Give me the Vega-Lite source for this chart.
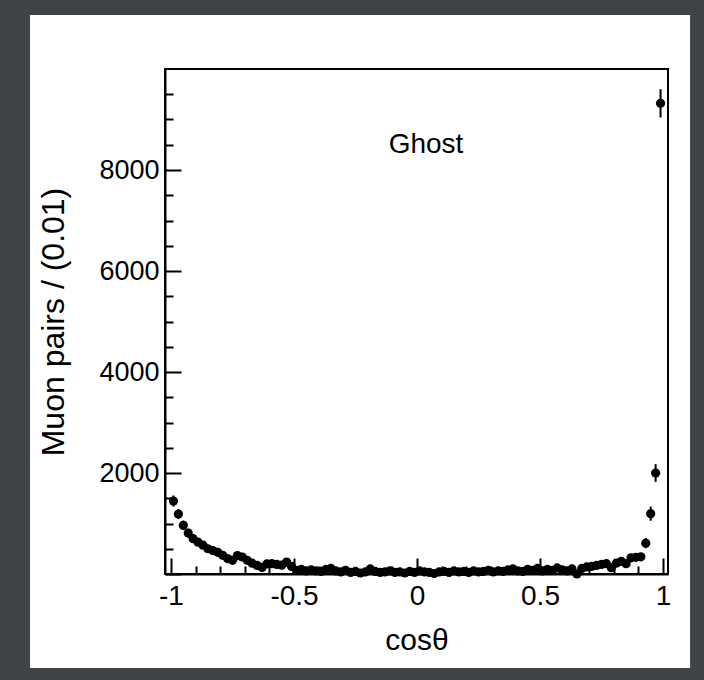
{
  "$schema": "https://vega.github.io/schema/vega-lite/v6.json",
  "width": 503,
  "height": 505,
  "autosize": {"type": "none"},
  "padding": {"left": 165, "top": 69, "right": 36, "bottom": 106},
  "background": "#3e4448",
  "config": {"view": {"stroke": null, "fill": null}},
  "data": {"values": [
    {"c": -0.99, "n": 1445, "e": 110},
    {"c": -0.97, "n": 1187, "e": 100},
    {"c": -0.95, "n": 963, "e": 93},
    {"c": -0.93, "n": 811, "e": 85},
    {"c": -0.91, "n": 700, "e": 80},
    {"c": -0.89, "n": 630, "e": 75},
    {"c": -0.87, "n": 570, "e": 72},
    {"c": -0.85, "n": 500, "e": 67},
    {"c": -0.83, "n": 465, "e": 65},
    {"c": -0.81, "n": 430, "e": 62},
    {"c": -0.79, "n": 370, "e": 58},
    {"c": -0.77, "n": 305, "e": 52},
    {"c": -0.75, "n": 270, "e": 49},
    {"c": -0.73, "n": 365, "e": 57},
    {"c": -0.71, "n": 335, "e": 55},
    {"c": -0.69, "n": 270, "e": 49},
    {"c": -0.67, "n": 215, "e": 44},
    {"c": -0.65, "n": 170, "e": 39},
    {"c": -0.63, "n": 130, "e": 34},
    {"c": -0.61, "n": 200, "e": 42},
    {"c": -0.59, "n": 205, "e": 43},
    {"c": -0.57, "n": 190, "e": 41},
    {"c": -0.55, "n": 175, "e": 40},
    {"c": -0.53, "n": 235, "e": 46},
    {"c": -0.51, "n": 150, "e": 37},
    {"c": -0.49, "n": 70, "e": 25},
    {"c": -0.47, "n": 90, "e": 28},
    {"c": -0.45, "n": 60, "e": 23},
    {"c": -0.43, "n": 80, "e": 27},
    {"c": -0.41, "n": 60, "e": 23},
    {"c": -0.39, "n": 50, "e": 21},
    {"c": -0.37, "n": 90, "e": 28},
    {"c": -0.35, "n": 110, "e": 31},
    {"c": -0.33, "n": 60, "e": 23},
    {"c": -0.31, "n": 40, "e": 19},
    {"c": -0.29, "n": 70, "e": 25},
    {"c": -0.27, "n": 30, "e": 16},
    {"c": -0.25, "n": 50, "e": 21},
    {"c": -0.23, "n": 20, "e": 13},
    {"c": -0.21, "n": 40, "e": 19},
    {"c": -0.19, "n": 100, "e": 30},
    {"c": -0.17, "n": 50, "e": 21},
    {"c": -0.15, "n": 30, "e": 16},
    {"c": -0.13, "n": 40, "e": 19},
    {"c": -0.11, "n": 60, "e": 23},
    {"c": -0.09, "n": 30, "e": 16},
    {"c": -0.07, "n": 40, "e": 19},
    {"c": -0.05, "n": 20, "e": 13},
    {"c": -0.03, "n": 50, "e": 21},
    {"c": -0.01, "n": 30, "e": 16},
    {"c": 0.01, "n": 60, "e": 23},
    {"c": 0.03, "n": 40, "e": 19},
    {"c": 0.05, "n": 30, "e": 16},
    {"c": 0.07, "n": 10, "e": 10},
    {"c": 0.09, "n": 40, "e": 19},
    {"c": 0.11, "n": 50, "e": 21},
    {"c": 0.13, "n": 30, "e": 16},
    {"c": 0.15, "n": 60, "e": 23},
    {"c": 0.17, "n": 40, "e": 19},
    {"c": 0.19, "n": 50, "e": 21},
    {"c": 0.21, "n": 30, "e": 16},
    {"c": 0.23, "n": 60, "e": 23},
    {"c": 0.25, "n": 40, "e": 19},
    {"c": 0.27, "n": 50, "e": 21},
    {"c": 0.29, "n": 70, "e": 25},
    {"c": 0.31, "n": 40, "e": 19},
    {"c": 0.33, "n": 60, "e": 23},
    {"c": 0.35, "n": 50, "e": 21},
    {"c": 0.37, "n": 80, "e": 27},
    {"c": 0.39, "n": 100, "e": 30},
    {"c": 0.41, "n": 60, "e": 23},
    {"c": 0.43, "n": 50, "e": 21},
    {"c": 0.45, "n": 90, "e": 28},
    {"c": 0.47, "n": 70, "e": 25},
    {"c": 0.49, "n": 110, "e": 31},
    {"c": 0.51, "n": 60, "e": 23},
    {"c": 0.53, "n": 90, "e": 28},
    {"c": 0.55, "n": 70, "e": 25},
    {"c": 0.57, "n": 120, "e": 33},
    {"c": 0.59, "n": 80, "e": 27},
    {"c": 0.61, "n": 60, "e": 23},
    {"c": 0.63, "n": 100, "e": 30},
    {"c": 0.65, "n": 0, "e": 5},
    {"c": 0.67, "n": 110, "e": 31},
    {"c": 0.69, "n": 140, "e": 35},
    {"c": 0.71, "n": 150, "e": 37},
    {"c": 0.73, "n": 170, "e": 39},
    {"c": 0.75, "n": 190, "e": 41},
    {"c": 0.77, "n": 205, "e": 43},
    {"c": 0.79, "n": 125, "e": 34},
    {"c": 0.81, "n": 215, "e": 44},
    {"c": 0.83, "n": 250, "e": 47},
    {"c": 0.85, "n": 205, "e": 43},
    {"c": 0.87, "n": 320, "e": 54},
    {"c": 0.89, "n": 330, "e": 54},
    {"c": 0.91, "n": 340, "e": 55},
    {"c": 0.93, "n": 610, "e": 100},
    {"c": 0.95, "n": 1195, "e": 140},
    {"c": 0.97, "n": 2000, "e": 175},
    {"c": 0.99, "n": 9320, "e": 280}
  ]},
  "layer": [
    {
      "data": {"values": [{}]},
      "mark": {"type": "rect", "fill": "white", "stroke": null},
      "encoding": {
        "x": {"datum": -1.573, "type": "quantitative", "scale": {"domain": [-1.0244, 1.0203], "nice": false, "zero": false},
          "axis": {"title": "cosθ", "values": [-1, -0.9, -0.8, -0.7, -0.6, -0.5, -0.4, -0.3, -0.2, -0.1, 0, 0.1, 0.2, 0.3, 0.4, 0.5, 0.6, 0.7, 0.8, 0.9, 1], "tickSize": {"expr": "(abs(datum.value * 2 - round(datum.value * 2)) < 0.001 ? -16 : -8)"}, "labelExpr": "abs(datum.value * 2 - round(datum.value * 2)) < 0.001 ? '' + datum.value : ''", "labelFont": "Liberation Sans", "labelFontSize": 28, "labelColor": "black", "labelPadding": 24, "labelFlush": false, "labelOverlap": false, "domainColor": "black", "domainWidth": 2, "tickColor": "black", "tickWidth": 2, "grid": false, "zindex": 1, "titleFont": "Liberation Sans", "titleFontSize": 30, "titleFontWeight": "normal", "titleColor": "black", "titlePadding": 7}},
        "x2": {"datum": 1.11},
        "y": {"datum": -1861, "type": "quantitative", "scale": {"domain": [0, 10000], "nice": false, "zero": false},
          "axis": {"title": "Muon pairs / (0.01)", "values": [0, 500, 1000, 1500, 2000, 2500, 3000, 3500, 4000, 4500, 5000, 5500, 6000, 6500, 7000, 7500, 8000, 8500, 9000, 9500], "tickSize": {"expr": "(datum.value % 2000 === 0 ? -16 : -8)"}, "labelExpr": "datum.value % 2000 === 0 && datum.value > 0 ? '' + datum.value : ''", "labelFont": "Liberation Sans", "labelFontSize": 27, "labelColor": "black", "labelPadding": 22, "labelFlush": false, "labelOverlap": false, "domainColor": "black", "domainWidth": 2, "tickColor": "black", "tickWidth": 2, "grid": false, "zindex": 1, "titleFont": "Liberation Sans", "titleFontSize": 32, "titleFontWeight": "normal", "titleColor": "black", "titlePadding": 28}},
        "y2": {"datum": 11068}
      }
    },
    {
      "data": {"values": [{}]},
      "mark": {"type": "rect", "fill": null, "fillOpacity": 0, "stroke": "black", "strokeWidth": 2},
      "encoding": {
        "x": {"datum": -1.0244, "type": "quantitative", "scale": {"domain": [-1.0244, 1.0203], "nice": false, "zero": false},
          "axis": {"title": "cosθ", "values": [-1, -0.9, -0.8, -0.7, -0.6, -0.5, -0.4, -0.3, -0.2, -0.1, 0, 0.1, 0.2, 0.3, 0.4, 0.5, 0.6, 0.7, 0.8, 0.9, 1], "tickSize": {"expr": "(abs(datum.value * 2 - round(datum.value * 2)) < 0.001 ? -16 : -8)"}, "labelExpr": "abs(datum.value * 2 - round(datum.value * 2)) < 0.001 ? '' + datum.value : ''", "labelFont": "Liberation Sans", "labelFontSize": 28, "labelColor": "black", "labelPadding": 24, "labelFlush": false, "labelOverlap": false, "domainColor": "black", "domainWidth": 2, "tickColor": "black", "tickWidth": 2, "grid": false, "zindex": 1, "titleFont": "Liberation Sans", "titleFontSize": 30, "titleFontWeight": "normal", "titleColor": "black", "titlePadding": 7}},
        "x2": {"datum": 1.0203},
        "y": {"datum": 0, "type": "quantitative", "scale": {"domain": [0, 10000], "nice": false, "zero": false},
          "axis": {"title": "Muon pairs / (0.01)", "values": [0, 500, 1000, 1500, 2000, 2500, 3000, 3500, 4000, 4500, 5000, 5500, 6000, 6500, 7000, 7500, 8000, 8500, 9000, 9500], "tickSize": {"expr": "(datum.value % 2000 === 0 ? -16 : -8)"}, "labelExpr": "datum.value % 2000 === 0 && datum.value > 0 ? '' + datum.value : ''", "labelFont": "Liberation Sans", "labelFontSize": 27, "labelColor": "black", "labelPadding": 22, "labelFlush": false, "labelOverlap": false, "domainColor": "black", "domainWidth": 2, "tickColor": "black", "tickWidth": 2, "grid": false, "zindex": 1, "titleFont": "Liberation Sans", "titleFontSize": 32, "titleFontWeight": "normal", "titleColor": "black", "titlePadding": 28}},
        "y2": {"datum": 10000}
      }
    },
    {
      "mark": {"type": "errorbar", "thickness": 2, "color": "black"},
      "encoding": {
        "x": {"field": "c", "type": "quantitative", "scale": {"domain": [-1.0244, 1.0203], "nice": false, "zero": false},
          "axis": {"title": "cosθ", "values": [-1, -0.9, -0.8, -0.7, -0.6, -0.5, -0.4, -0.3, -0.2, -0.1, 0, 0.1, 0.2, 0.3, 0.4, 0.5, 0.6, 0.7, 0.8, 0.9, 1], "tickSize": {"expr": "(abs(datum.value * 2 - round(datum.value * 2)) < 0.001 ? -16 : -8)"}, "labelExpr": "abs(datum.value * 2 - round(datum.value * 2)) < 0.001 ? '' + datum.value : ''", "labelFont": "Liberation Sans", "labelFontSize": 28, "labelColor": "black", "labelPadding": 24, "labelFlush": false, "labelOverlap": false, "domainColor": "black", "domainWidth": 2, "tickColor": "black", "tickWidth": 2, "grid": false, "zindex": 1, "titleFont": "Liberation Sans", "titleFontSize": 30, "titleFontWeight": "normal", "titleColor": "black", "titlePadding": 7}},
        "y": {"field": "n", "type": "quantitative", "scale": {"domain": [0, 10000], "nice": false, "zero": false},
          "axis": {"title": "Muon pairs / (0.01)", "values": [0, 500, 1000, 1500, 2000, 2500, 3000, 3500, 4000, 4500, 5000, 5500, 6000, 6500, 7000, 7500, 8000, 8500, 9000, 9500], "tickSize": {"expr": "(datum.value % 2000 === 0 ? -16 : -8)"}, "labelExpr": "datum.value % 2000 === 0 && datum.value > 0 ? '' + datum.value : ''", "labelFont": "Liberation Sans", "labelFontSize": 27, "labelColor": "black", "labelPadding": 22, "labelFlush": false, "labelOverlap": false, "domainColor": "black", "domainWidth": 2, "tickColor": "black", "tickWidth": 2, "grid": false, "zindex": 1, "titleFont": "Liberation Sans", "titleFontSize": 32, "titleFontWeight": "normal", "titleColor": "black", "titlePadding": 28}},
        "yError": {"field": "e"}
      }
    },
    {
      "mark": {"type": "circle", "size": 85, "color": "black", "opacity": 1},
      "encoding": {
        "x": {"field": "c", "type": "quantitative", "scale": {"domain": [-1.0244, 1.0203], "nice": false, "zero": false},
          "axis": {"title": "cosθ", "values": [-1, -0.9, -0.8, -0.7, -0.6, -0.5, -0.4, -0.3, -0.2, -0.1, 0, 0.1, 0.2, 0.3, 0.4, 0.5, 0.6, 0.7, 0.8, 0.9, 1], "tickSize": {"expr": "(abs(datum.value * 2 - round(datum.value * 2)) < 0.001 ? -16 : -8)"}, "labelExpr": "abs(datum.value * 2 - round(datum.value * 2)) < 0.001 ? '' + datum.value : ''", "labelFont": "Liberation Sans", "labelFontSize": 28, "labelColor": "black", "labelPadding": 24, "labelFlush": false, "labelOverlap": false, "domainColor": "black", "domainWidth": 2, "tickColor": "black", "tickWidth": 2, "grid": false, "zindex": 1, "titleFont": "Liberation Sans", "titleFontSize": 30, "titleFontWeight": "normal", "titleColor": "black", "titlePadding": 7}},
        "y": {"field": "n", "type": "quantitative", "scale": {"domain": [0, 10000], "nice": false, "zero": false},
          "axis": {"title": "Muon pairs / (0.01)", "values": [0, 500, 1000, 1500, 2000, 2500, 3000, 3500, 4000, 4500, 5000, 5500, 6000, 6500, 7000, 7500, 8000, 8500, 9000, 9500], "tickSize": {"expr": "(datum.value % 2000 === 0 ? -16 : -8)"}, "labelExpr": "datum.value % 2000 === 0 && datum.value > 0 ? '' + datum.value : ''", "labelFont": "Liberation Sans", "labelFontSize": 27, "labelColor": "black", "labelPadding": 22, "labelFlush": false, "labelOverlap": false, "domainColor": "black", "domainWidth": 2, "tickColor": "black", "tickWidth": 2, "grid": false, "zindex": 1, "titleFont": "Liberation Sans", "titleFontSize": 32, "titleFontWeight": "normal", "titleColor": "black", "titlePadding": 28}}
      }
    },
    {
      "data": {"values": [{}]},
      "mark": {"type": "text", "text": "Ghost", "font": "Liberation Sans", "fontSize": 28, "align": "center", "baseline": "alphabetic", "color": "black"},
      "encoding": {
        "x": {"datum": 0.0366, "type": "quantitative", "scale": {"domain": [-1.0244, 1.0203], "nice": false, "zero": false},
          "axis": {"title": "cosθ", "values": [-1, -0.9, -0.8, -0.7, -0.6, -0.5, -0.4, -0.3, -0.2, -0.1, 0, 0.1, 0.2, 0.3, 0.4, 0.5, 0.6, 0.7, 0.8, 0.9, 1], "tickSize": {"expr": "(abs(datum.value * 2 - round(datum.value * 2)) < 0.001 ? -16 : -8)"}, "labelExpr": "abs(datum.value * 2 - round(datum.value * 2)) < 0.001 ? '' + datum.value : ''", "labelFont": "Liberation Sans", "labelFontSize": 28, "labelColor": "black", "labelPadding": 24, "labelFlush": false, "labelOverlap": false, "domainColor": "black", "domainWidth": 2, "tickColor": "black", "tickWidth": 2, "grid": false, "zindex": 1, "titleFont": "Liberation Sans", "titleFontSize": 30, "titleFontWeight": "normal", "titleColor": "black", "titlePadding": 7}},
        "y": {"datum": 8337, "type": "quantitative", "scale": {"domain": [0, 10000], "nice": false, "zero": false},
          "axis": {"title": "Muon pairs / (0.01)", "values": [0, 500, 1000, 1500, 2000, 2500, 3000, 3500, 4000, 4500, 5000, 5500, 6000, 6500, 7000, 7500, 8000, 8500, 9000, 9500], "tickSize": {"expr": "(datum.value % 2000 === 0 ? -16 : -8)"}, "labelExpr": "datum.value % 2000 === 0 && datum.value > 0 ? '' + datum.value : ''", "labelFont": "Liberation Sans", "labelFontSize": 27, "labelColor": "black", "labelPadding": 22, "labelFlush": false, "labelOverlap": false, "domainColor": "black", "domainWidth": 2, "tickColor": "black", "tickWidth": 2, "grid": false, "zindex": 1, "titleFont": "Liberation Sans", "titleFontSize": 32, "titleFontWeight": "normal", "titleColor": "black", "titlePadding": 28}}
      }
    }
  ]
}
